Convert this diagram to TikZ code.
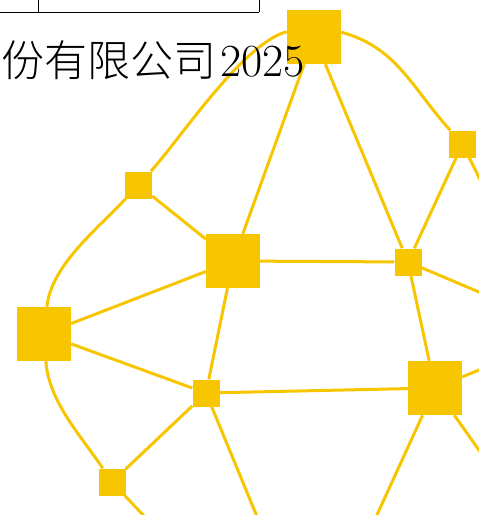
\documentclass[tikz,border=0pt]{standalone}
\usepackage{fontspec}
\newfontfamily\cjk{Noto Sans CJK SC Light}
\definecolor{netyellow}{RGB}{248,198,0}
\tikzset{
  bigsq/.style={fill=netyellow, minimum size=54pt, inner sep=0pt},
  smallsq/.style={fill=netyellow, minimum size=27pt, inner sep=0pt},
  wire/.style={draw=netyellow, line width=3pt}
}
\begin{document}
\begin{tikzpicture}[x=1pt,y=-1pt]
\useasboundingbox (0,0) rectangle (479,515);
\clip (0,0) rectangle (479,515);
% table edge at the top
\draw[line width=1pt] (-5,12) -- (259,12);
\draw[line width=1pt] (38,-5) -- (38,12);
\draw[line width=1pt] (259,-5) -- (259,12);
% squares
\node[bigsq] (ntop) at (314,37) {};
\node[smallsq] (nrim) at (462.5,144) {};
\node[smallsq] (nmid) at (408,262) {};
\node[bigsq] (nhub) at (233,261) {};
\node[smallsq] (nupper) at (138.5,185) {};
\node[bigsq] (nwest) at (44,334) {};
\node[smallsq] (nlow) at (206,393) {};
\node[bigsq] (neast) at (435,388) {};
\node[smallsq] (nfoot) at (112,482) {};
% ends outside the picture
\coordinate (offrim) at (500,220);
\coordinate (offmid) at (550,322);
\coordinate (offeastup) at (545,343);
\coordinate (offeastdown) at (520,508);
\coordinate (offeastfoot) at (360,552);
\coordinate (offlow) at (270,548);
\coordinate (offfoot) at (160,533);
% links
\draw[wire] (ntop.169) to[out=195,in=48,looseness=0.6] (nupper);
\draw[wire] (ntop.10) to[out=-15,in=132] (nrim);
\draw[wire] (nupper) to[out=227,in=84,looseness=0.8] (nwest);
\draw[wire] (nwest) to[out=274,in=124,looseness=0.85] (nfoot);
\draw[wire] (ntop) -- (nhub);
\draw[wire] (ntop) -- (nmid);
\draw[wire] (nrim) -- (nmid);
\draw[wire] (nhub) -- (nmid);
\draw[wire] (nhub) -- (nupper);
\draw[wire] (nhub) -- (nwest);
\draw[wire] (nhub) -- (nlow);
\draw[wire] (nwest) -- (nlow);
\draw[wire] (nlow) -- (neast);
\draw[wire] (nlow) -- (nfoot);
\draw[wire] (nmid) -- (neast);
\draw[wire] (nrim) -- (offrim);
\draw[wire] (nmid) -- (offmid);
\draw[wire] (neast) -- (offeastup);
\draw[wire] (neast) -- (offeastdown);
\draw[wire] (neast) -- (offeastfoot);
\draw[wire] (nlow) -- (offlow);
\draw[wire] (nfoot) -- (offfoot);
% text over the squares
\node[anchor=base west, inner sep=0pt] (title) at (1,76)
  {\fontsize{43}{43}\selectfont\cjk 份有限公司\hspace{4pt}\rmfamily\fontsize{46}{46}\selectfont 2025};
\end{tikzpicture}
\end{document}
